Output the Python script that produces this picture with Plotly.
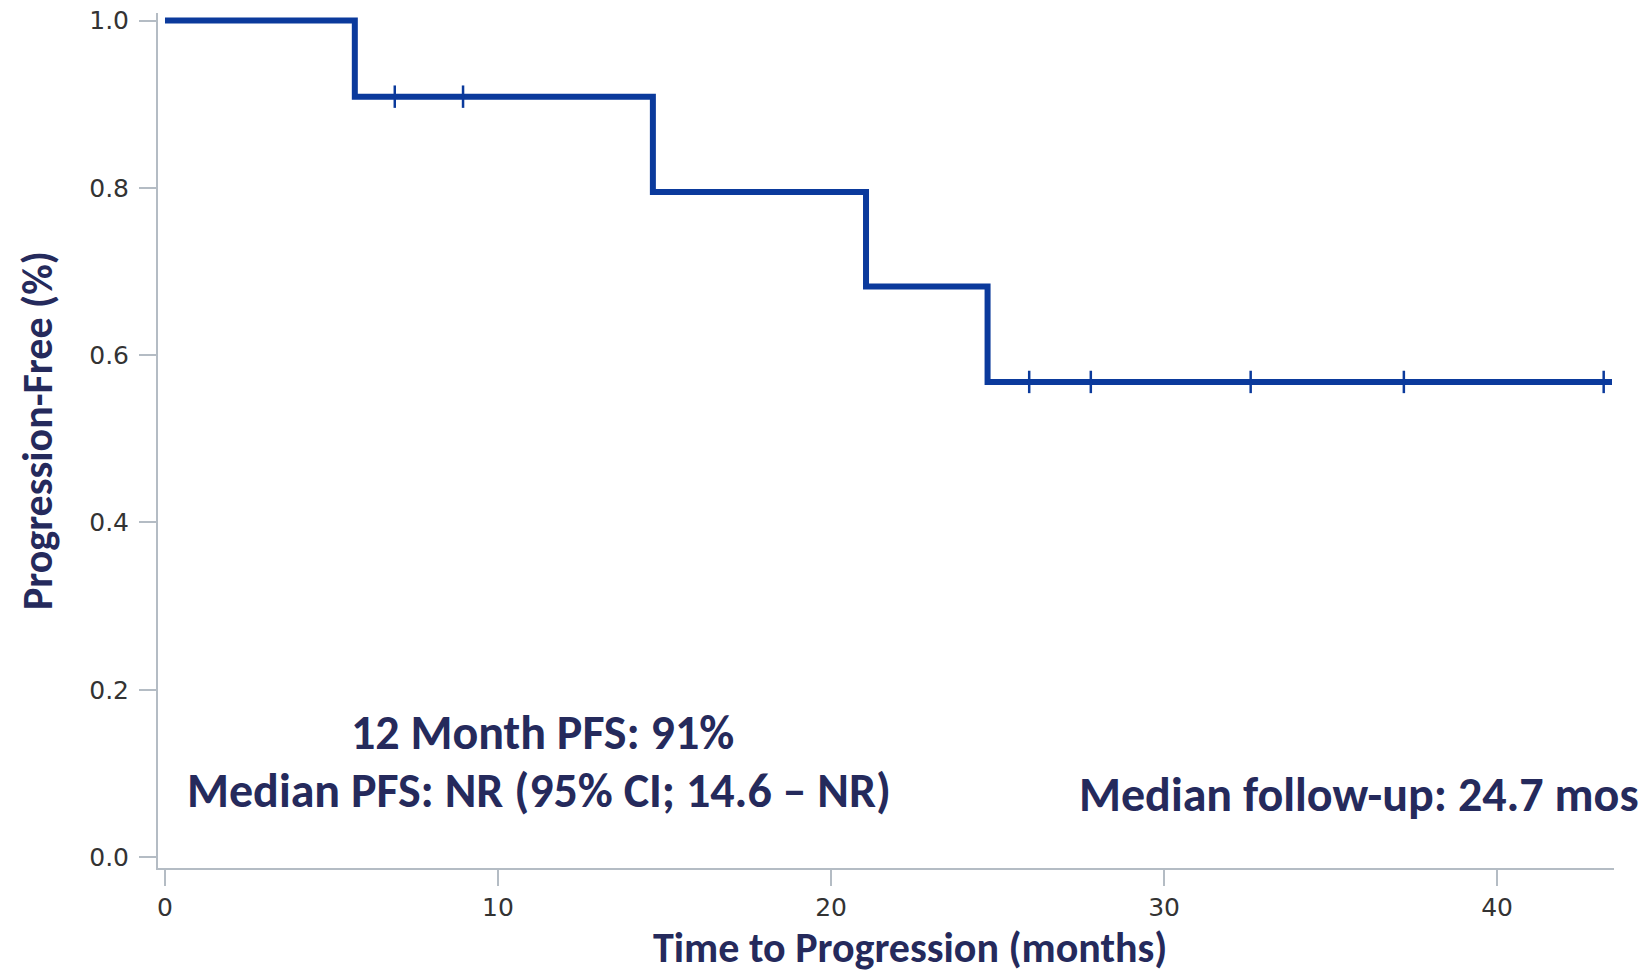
import plotly.graph_objects as go

# Kaplan-Meier step data
event_times = [0, 5.7, 14.65, 21.05, 24.7, 43.45]
survival = [1.0, 0.909, 0.795, 0.682, 0.568, 0.568]

censor_times = [6.9, 8.95, 25.95, 27.8, 32.6, 37.2, 43.2]
censor_surv = [0.909, 0.909, 0.568, 0.568, 0.568, 0.568, 0.568]

x_ticks = [0, 10, 20, 30, 40]
y_ticks = [0.0, 0.2, 0.4, 0.6, 0.8, 1.0]

LINE = "#0b3a9c"
NAVY = "#252a5c"
AXIS = "#b4bcc4"
TITLE_FONT = "Carlito, Lato, sans-serif"
TICK_FONT = dict(family="DejaVu Sans, Verdana", size=25, color="#333333")

fig = go.Figure()
fig.add_trace(go.Scatter(
    x=event_times, y=survival, mode="lines",
    line=dict(color=LINE, width=6, shape="hv"),
    showlegend=False, hoverinfo="skip", cliponaxis=False,
))
fig.add_trace(go.Scatter(
    x=censor_times, y=censor_surv, mode="markers",
    marker=dict(symbol="line-ns", size=16, line=dict(color=LINE, width=2.5)),
    showlegend=False, hoverinfo="skip", cliponaxis=False,
))

fig.update_layout(
    width=1649, height=972,
    margin=dict(l=158, r=35, t=13, b=104, autoexpand=False),
    paper_bgcolor="white", plot_bgcolor="white",
    xaxis=dict(
        range=[-0.21, 43.51], tickvals=x_ticks, ticks="outside", ticklen=16,
        tickcolor=AXIS, tickwidth=2, showline=True, linecolor=AXIS, linewidth=2,
        showgrid=False, zeroline=False, ticklabelstandoff=0, tickfont=TICK_FONT,
        ticklabeloverflow="allow", automargin=False,
    ),
    yaxis=dict(
        range=[-0.013, 1.009], tickvals=y_ticks, tickformat=".1f", ticks="outside",
        ticklen=17, tickcolor=AXIS, tickwidth=2, showline=True, linecolor=AXIS,
        linewidth=2, showgrid=False, zeroline=False, ticklabelstandoff=5,
        tickfont=TICK_FONT, ticklabeloverflow="allow", automargin=False,
    ),
    annotations=[
        dict(text="Time to Progression (months)", x=0.5165, y=-0.0930, xref="paper", yref="paper",
             showarrow=False, xanchor="center", yanchor="middle",
             font=dict(family=TITLE_FONT, size=42, color=NAVY, weight="bold")),
        dict(text="Progression-Free (%)", x=-0.0831, y=0.511, xref="paper", yref="paper",
             showarrow=False, textangle=-90, xanchor="center", yanchor="middle",
             font=dict(family=TITLE_FONT, size=42, color=NAVY, weight="bold")),
        dict(text="12 Month PFS: 91%", x=0.2644, y=0.158, xref="paper", yref="paper",
             showarrow=False, xanchor="center", yanchor="middle",
             font=dict(family=TITLE_FONT, size=48, color=NAVY, weight="bold")),
        dict(text="Median PFS: NR (95% CI; 14.6 \u2013 NR)", x=0.2617, y=0.0912,
             xref="paper", yref="paper", showarrow=False, xanchor="center", yanchor="middle",
             font=dict(family=TITLE_FONT, size=48, color=NAVY, weight="bold")),
        dict(text="Median follow-up: 24.7 mos", x=1.0185, y=0.0865, xref="paper", yref="paper",
             showarrow=False, xanchor="right", yanchor="middle",
             font=dict(family=TITLE_FONT, size=48, color=NAVY, weight="bold")),
    ],
)

fig.write_html(
    "out.html",
    config={"displayModeBar": False},
    post_script="document.body.style.margin='0';document.body.style.overflow='hidden';",
)
